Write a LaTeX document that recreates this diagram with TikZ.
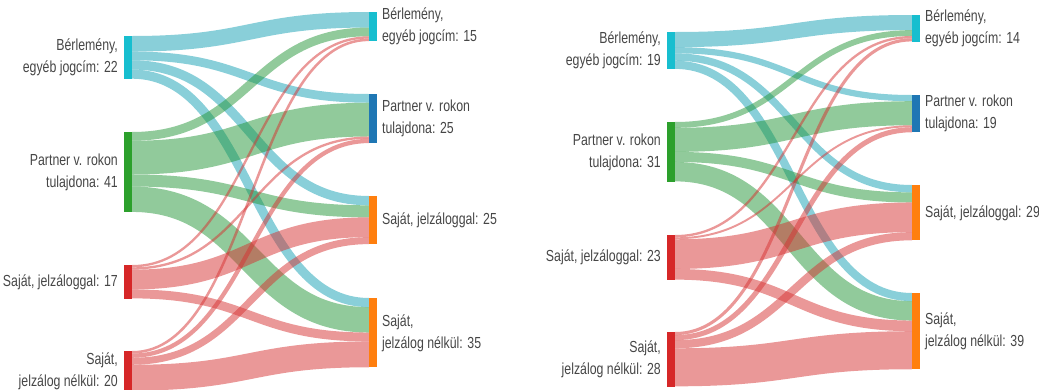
\documentclass[tikz,border=0pt]{standalone}
\usepackage{fontspec}
\setmainfont{Liberation Sans}[FakeStretch=0.77]
\usetikzlibrary{calc}

\definecolor{cyn}{RGB}{23,190,207}
\definecolor{grn}{RGB}{44,160,44}
\definecolor{red}{RGB}{214,39,40}
\definecolor{blu}{RGB}{31,119,180}
\definecolor{org}{RGB}{255,127,14}
\definecolor{cynl}{RGB}{20,160,180}
\definecolor{grnl}{RGB}{35,150,55}
\definecolor{redl}{RGB}{214,50,50}
\definecolor{txt}{RGB}{70,70,70}

\pgfdeclarelayer{bg}
\pgfsetlayers{bg,main}

\def\un{1.94pt}
% one band: source node, offset, target node, offset, value, colour
\newcommand{\flow}[6]{%
  \draw[flow, draw=#6, line width=#5*\un]
    let \p1=(#1.north east), \p2=(#3.north west),
        \n1={#2*\un+#5*\un/2}, \n2={#4*\un+#5*\un/2}, \n3={(\x1+\x2)/2} in
    (\x1,\y1-\n1) .. controls (\n3,\y1-\n1) and (\n3,\y2-\n2) .. (\x2,\y2-\n2);}

\begin{document}
\begin{tikzpicture}[x=1pt,y=-1pt,
    bar/.style={anchor=north west, inner sep=0, minimum width=7.5pt},
    flow/.style={draw opacity=0.5},
    lab/.style={font=\fontsize{16}{22}\selectfont, text=txt, inner sep=0},
    labl/.style={lab, anchor=east, align=right, xshift=-6pt},
    labr/.style={lab, anchor=west, align=left, xshift=5pt}]
  \useasboundingbox (0,0) rectangle (1039,389);

  % left chart
  \node[bar, fill=cyn, minimum height=22*\un]   (aB) at (124,36)  {};
  \node[bar, fill=grn, minimum height=41.2*\un] (aP) at (124,132) {};
  \node[bar, fill=red, minimum height=17.2*\un] (aJ) at (124,265) {};
  \node[bar, fill=red, minimum height=20.4*\un] (aN) at (124,351) {};
  \node[bar, fill=cyn, minimum height=15*\un]   (bB) at (369,12)  {};
  \node[bar, fill=blu, minimum height=25.3*\un] (bP) at (369,94)  {};
  \node[bar, fill=org, minimum height=24.8*\un] (bJ) at (369,196) {};
  \node[bar, fill=org, minimum height=35.7*\un] (bN) at (369,298) {};

  \node[labl] (aBl) at (aB.west) {Bérlemény,\\egyéb jogcím: 22};
  \node[labl] (aPl) at (aP.west) {Partner v. rokon\\tulajdona: 41};
  \node[labl] (aJl) at (aJ.west) {Saját, jelzáloggal: 17};
  \node[labl] (aNl) at (aN.west) {Saját,\\jelzálog nélkül: 20};
  \node[labr] (bBl) at (bB.east) {Bérlemény,\\egyéb jogcím: 15};
  \node[labr] (bPl) at (bP.east) {Partner v. rokon\\tulajdona: 25};
  \node[labr] (bJl) at (bJ.east) {Saját, jelzáloggal: 25};
  \node[labr] (bNl) at (bN.east) {Saját,\\jelzálog nélkül: 35};

  % right chart
  \node[bar, fill=cyn, minimum height=19*\un]   (cB) at (667,32)  {};
  \node[bar, fill=grn, minimum height=30.6*\un] (cP) at (667,122) {};
  \node[bar, fill=red, minimum height=23*\un]   (cJ) at (667,235) {};
  \node[bar, fill=red, minimum height=28*\un]   (cN) at (667,332) {};
  \node[bar, fill=cyn, minimum height=13.6*\un] (dB) at (912,15)  {};
  \node[bar, fill=blu, minimum height=19.2*\un] (dP) at (912,95)  {};
  \node[bar, fill=org, minimum height=28.5*\un] (dJ) at (912,185) {};
  \node[bar, fill=org, minimum height=39.3*\un] (dN) at (912,293) {};

  \node[labl] (cBl) at (cB.west) {Bérlemény,\\egyéb jogcím: 19};
  \node[labl] (cPl) at (cP.west) {Partner v. rokon\\tulajdona: 31};
  \node[labl] (cJl) at (cJ.west) {Saját, jelzáloggal: 23};
  \node[labl] (cNl) at (cN.west) {Saját,\\jelzálog nélkül: 28};
  \node[labr] (dBl) at (dB.east) {Bérlemény,\\egyéb jogcím: 14};
  \node[labr] (dPl) at (dP.east) {Partner v. rokon\\tulajdona: 19};
  \node[labr] (dJl) at (dJ.east) {Saját, jelzáloggal: 29};
  \node[labr] (dNl) at (dN.east) {Saját,\\jelzálog nélkül: 39};

  \begin{pgfonlayer}{bg}
    \flow{aB}{0}{bB}{0}{8}{cynl}
    \flow{aB}{8}{bP}{0}{4.5}{cynl}
    \flow{aB}{12.5}{bJ}{0}{4.8}{cynl}
    \flow{aB}{17.3}{bN}{0}{4.7}{cynl}
    \flow{aP}{0}{bB}{8}{4.5}{grnl}
    \flow{aP}{4.5}{bP}{4.5}{17.4}{grnl}
    \flow{aP}{21.9}{bJ}{4.8}{6.2}{grnl}
    \flow{aP}{28.1}{bN}{4.7}{13.1}{grnl}
    \flow{aJ}{0}{bB}{12.5}{1.2}{redl}
    \flow{aJ}{1.2}{bP}{21.9}{1.2}{redl}
    \flow{aJ}{2.4}{bJ}{11.0}{10.2}{redl}
    \flow{aJ}{12.6}{bN}{17.8}{4.6}{redl}
    \flow{aN}{0}{bB}{13.7}{1.3}{redl}
    \flow{aN}{1.3}{bP}{23.1}{2.2}{redl}
    \flow{aN}{3.5}{bJ}{21.2}{3.6}{redl}
    \flow{aN}{7.1}{bN}{22.4}{13.3}{redl}

    \flow{cB}{0}{dB}{0}{7.8}{cynl}
    \flow{cB}{7.8}{dP}{0}{3.2}{cynl}
    \flow{cB}{11.0}{dJ}{0}{3.8}{cynl}
    \flow{cB}{14.8}{dN}{0}{4.2}{cynl}
    \flow{cP}{0}{dB}{7.8}{3.0}{grnl}
    \flow{cP}{3.0}{dP}{3.2}{12.4}{grnl}
    \flow{cP}{15.4}{dJ}{3.8}{5.2}{grnl}
    \flow{cP}{20.6}{dN}{4.2}{10.0}{grnl}
    \flow{cJ}{0}{dB}{10.8}{1.2}{redl}
    \flow{cJ}{1.2}{dP}{15.6}{1.0}{redl}
    \flow{cJ}{2.2}{dJ}{9.0}{15.3}{redl}
    \flow{cJ}{17.5}{dN}{14.2}{5.5}{redl}
    \flow{cN}{0}{dB}{12.0}{1.6}{redl}
    \flow{cN}{1.6}{dP}{16.6}{2.6}{redl}
    \flow{cN}{4.2}{dJ}{24.3}{4.2}{redl}
    \flow{cN}{8.4}{dN}{19.7}{19.6}{redl}
  \end{pgfonlayer}
\end{tikzpicture}
\end{document}
